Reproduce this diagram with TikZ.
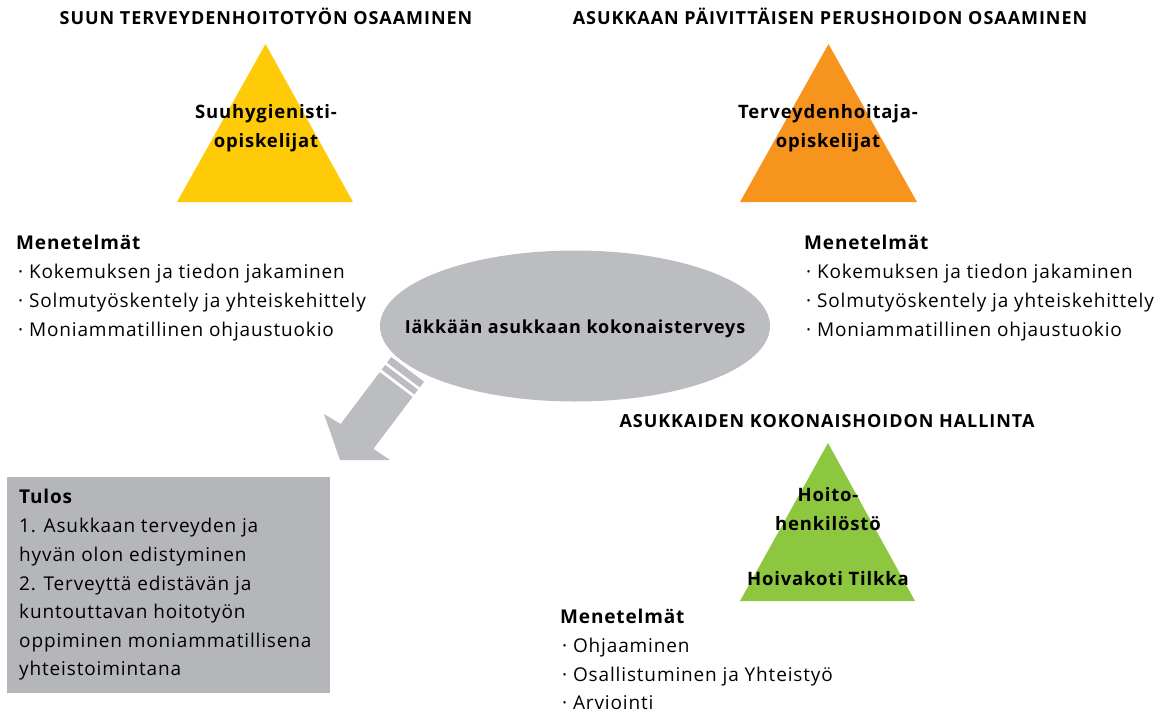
\documentclass[tikz,border=0pt]{standalone}
\usepackage{fontspec}
\setmainfont{Open Sans}
\newfontfamily\spacedA[LetterSpace=4.5]{Open Sans}
\newfontfamily\spacedT[LetterSpace=5.3]{Open Sans}
\usetikzlibrary{shapes.geometric}
\definecolor{triYellow}{RGB}{255,203,8}
\definecolor{triOrange}{RGB}{247,148,30}
\definecolor{triGreen}{RGB}{141,198,63}
\definecolor{ellGray}{RGB}{188,189,193}
\definecolor{boxGray}{RGB}{181,182,186}
\begin{document}
\begin{tikzpicture}[x=1pt,y=-1pt,
  ttl/.style={font=\spacedT\bfseries\fontsize{18}{21}\selectfont, anchor=base, inner sep=0},
  lbl/.style={font=\spacedA\bfseries\fontsize{18.5}{21}\selectfont, anchor=base, inner sep=0},
  elltxt/.style={font=\spacedA\bfseries\fontsize{18}{21}\selectfont, anchor=base, inner sep=0},
  txt/.style={font=\spacedA\fontsize{19}{22}\selectfont, anchor=base west, inner sep=0},
  hd/.style={font=\spacedA\bfseries\fontsize{19}{22}\selectfont, anchor=base west, inner sep=0},
]
\useasboundingbox (0,0) rectangle (1156,712);

% triangles
\fill[triYellow] (265.5,44) -- (353,202) -- (177,202) -- cycle;
\fill[triOrange] (828.5,44) -- (917,202) -- (740,202) -- cycle;
\fill[triGreen]  (828,443) -- (915,601) -- (740,601) -- cycle;

% titles
\node[ttl] (t1) at (266,24) {SUUN TERVEYDENHOITOTYÖN OSAAMINEN};
\node[ttl] (t2) at (830,24) {ASUKKAAN PÄIVITTÄISEN PERUSHOIDON OSAAMINEN};
\node[ttl] (t3) at (827,427) {ASUKKAIDEN KOKONAISHOIDON HALLINTA};

% triangle labels
\node[lbl] (y1) at (266,118) {Suuhygienisti-};
\node[lbl] (y2) at (266,147) {opiskelijat};
\node[lbl] (o1) at (828,118) {Terveydenhoitaja-};
\node[lbl] (o2) at (828,147) {opiskelijat};
\node[lbl] (g1) at (828,501) {Hoito-};
\node[lbl] (g2) at (828,530) {henkilöstö};
\node[lbl] (g3) at (828,585) {Hoivakoti Tilkka};

% left methods
\node[hd]  (lm0) at (16,249) {Menetelmät};
\node[txt] (lm1) at (18,278) {· Kokemuksen ja tiedon jakaminen};
\node[txt] (lm2) at (18,307) {· Solmutyöskentely ja yhteiskehittely};
\node[txt] (lm3) at (18,336) {· Moniammatillinen ohjaustuokio};

% right methods
\node[hd]  (rm0) at (804,249) {Menetelmät};
\node[txt] (rm1) at (806,278) {· Kokemuksen ja tiedon jakaminen};
\node[txt] (rm2) at (806,307) {· Solmutyöskentely ja yhteiskehittely};
\node[txt] (rm3) at (806,336) {· Moniammatillinen ohjaustuokio};

% bottom methods
\node[hd]  (bm0) at (560,623) {Menetelmät};
\node[txt] (bm1) at (562,652) {· Ohjaaminen};
\node[txt] (bm2) at (562,681) {· Osallistuminen ja Yhteistyö};
\node[txt] (bm3) at (562,709) {· Arviointi};

% arrow
\fill[ellGray] (340.6,424.0) -- (379.8,372.1) -- (412.6,396.9) -- (373.4,448.8)
  -- (390,460) -- (340,460) -- (324,414) -- cycle;
\fill[ellGray] (381.6,369.7) -- (385.2,364.9) -- (418.0,389.7) -- (414.4,394.5) -- cycle;
\fill[ellGray] (387.0,362.6) -- (391.3,357.0) -- (424.1,381.8) -- (419.8,387.4) -- cycle;

% ellipse
\node[ellipse, fill=ellGray, inner sep=0, minimum width=390pt, minimum height=151pt] (ell) at (575,326) {};
\node[elltxt] (ellt) at (575,333) {Iäkkään asukkaan kokonaisterveys};

% result box
\node[fill=boxGray, inner sep=0, minimum width=323pt, minimum height=216pt, anchor=north west] (box) at (7,477) {};
\node[hd]  (r0) at (19,503) {Tulos};
\node[txt] (r1) at (19,532) {1. Asukkaan terveyden ja};
\node[txt] (r2) at (19,561) {hyvän olon edistyminen};
\node[txt] (r3) at (19,590) {2. Terveyttä edistävän ja};
\node[txt] (r4) at (19,618) {kuntouttavan hoitotyön};
\node[txt] (r5) at (19,647) {oppiminen moniammatillisena};
\node[txt] (r6) at (19,675) {yhteistoimintana};
\end{tikzpicture}
\end{document}
